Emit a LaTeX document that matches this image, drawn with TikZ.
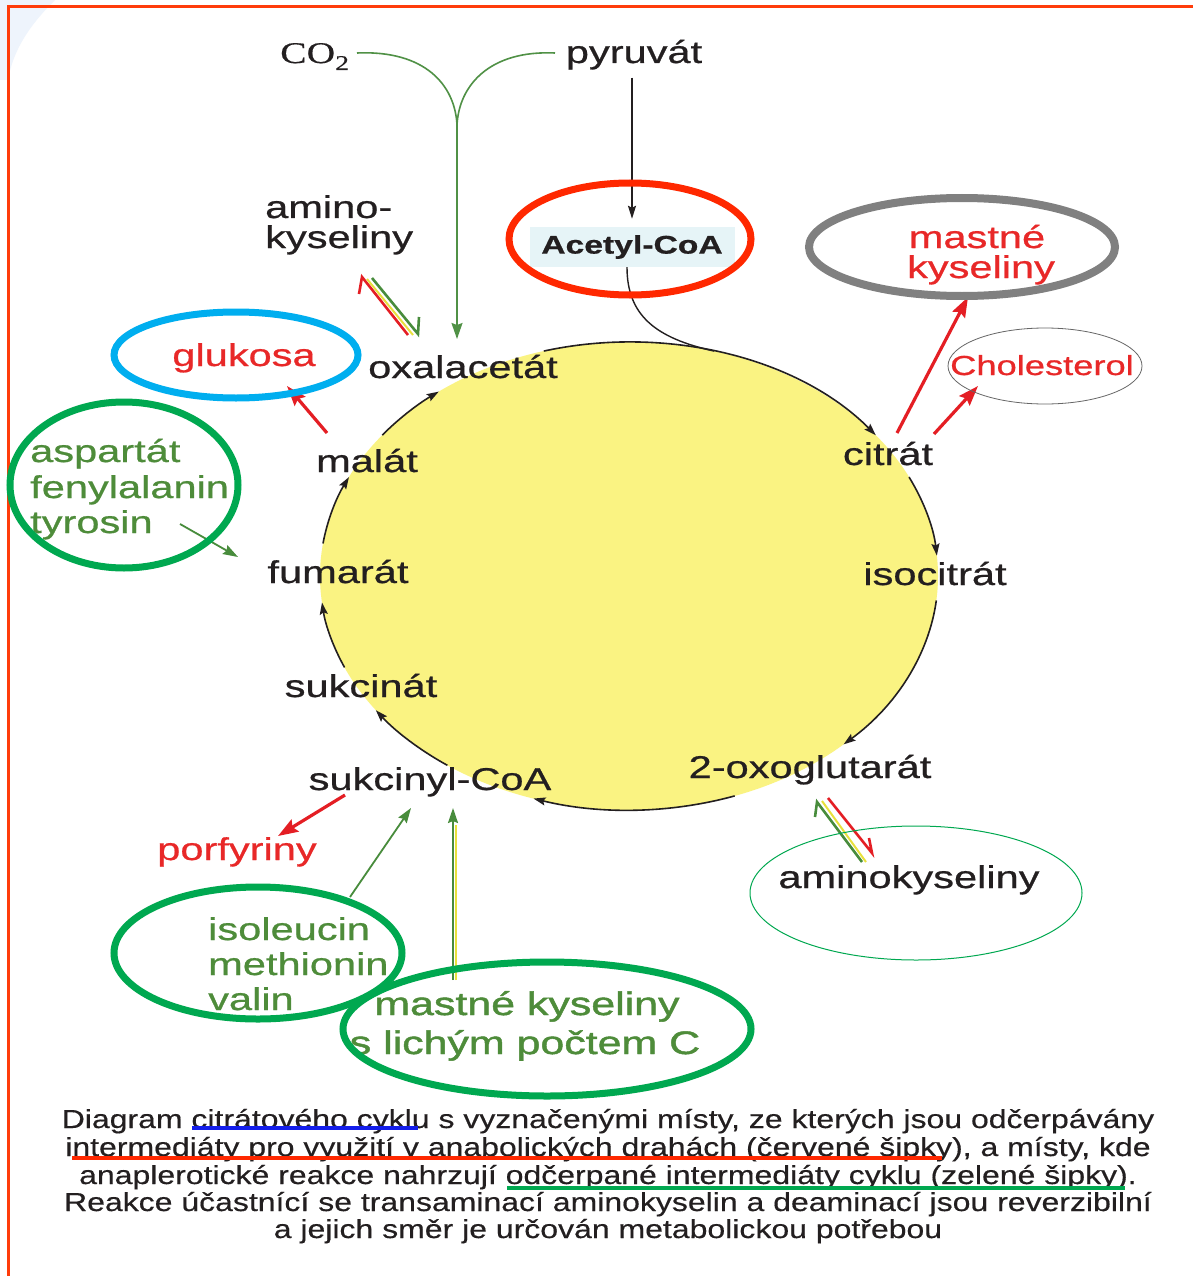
\documentclass[tikz,border=0pt]{standalone}
\usepackage{fontspec}
\setmainfont{Liberation Sans}[FakeStretch=1.32]
\newfontfamily\lblfont{Liberation Sans}[FakeStretch=1.32,FakeBold=0.7]
\newfontfamily\heavyfont{Liberation Sans}[FakeStretch=1.32,FakeBold=1.4]
\newfontfamily\capfont{Liberation Sans}[FakeStretch=1.23,FakeBold=0.4]
\newfontfamily\serifwide{Liberation Serif}[FakeStretch=1.32,FakeBold=0.4]
\usetikzlibrary{arrows.meta}

\definecolor{ink}{RGB}{35,31,32}
\definecolor{redtxt}{RGB}{232,40,40}
\definecolor{grntxt}{RGB}{78,140,58}
\definecolor{redarr}{RGB}{228,30,36}
\definecolor{grnarr}{RGB}{72,140,60}
\definecolor{grnline}{RGB}{80,145,70}
\definecolor{cycfill}{RGB}{250,243,130}
\definecolor{frame}{RGB}{255,60,10}
\definecolor{markred}{RGB}{255,40,0}
\definecolor{markgrey}{RGB}{128,128,128}
\definecolor{markblue}{RGB}{0,174,239}
\definecolor{markgreen}{RGB}{0,168,80}
\definecolor{ulblue}{RGB}{20,30,235}
\definecolor{acbg}{RGB}{230,244,247}
\definecolor{slide}{RGB}{238,244,252}
\definecolor{hiyel}{RGB}{232,225,60}

% one arc of the cycle, between two parametric angles of the ring
\newcommand\cycarc[2]{\draw[cyc] ([shift={(#1:309 and 234)}]O)
  arc[start angle=#1, end angle=#2, x radius=309, y radius=234];}

\begin{document}
\begin{tikzpicture}[x=1pt,y=1pt,
  lbl/.style={inner sep=0pt, font=\lblfont\fontsize{31.5}{30}\selectfont, text=ink},
  redlbl/.style={lbl, text=redtxt},
  grnlbl/.style={lbl, text=grntxt},
  caption/.style={inner sep=0pt, font=\capfont\fontsize{26}{27}\selectfont, text=ink, anchor=base},
  cyc/.style={line width=1.6pt, draw=ink, -{Stealth[length=12pt,width=8pt,inset=2pt]}},
  outarrow/.style={line width=3.2pt, draw=redarr, -{Stealth[length=20pt,width=14pt,inset=3pt]}},
  inarrow/.style={line width=1.8pt, draw=grnarr, -{Stealth[length=15pt,width=10pt,inset=2pt]}},
  ring/.style={line width=7pt},
  harpoon/.style={line width=2.6pt, line join=miter},
]
\useasboundingbox (0,0) rectangle (1193,-1276);
\fill[white] (0,0) rectangle (1193,-1276);
\fill[slide] (0,0) -- (55,0) .. controls (35,-20) and (14,-45) .. (8,-80) -- (0,-80) -- cycle;
\draw[frame, line width=3pt] (8,-1276) -- (8,-7) -- (1193,-7);

% the cycle disc
\coordinate (O) at (629,-576);
\fill[cycfill] (O) ellipse [x radius=309, y radius=234];

% inputs at the top
\node[lbl, anchor=base] (pyr) at (634,-63) {pyruvát};
\node[inner sep=0pt, anchor=base west, font=\serifwide\fontsize{30}{30}\selectfont, text=ink] (co2) at (280,-63)
  {CO\raisebox{-7pt}{\fontsize{21}{21}\selectfont 2}};
\node[lbl, anchor=base west] (am1) at (265,-218) {amino-};
\node[lbl, anchor=base west] (am2) at (265,-248) {kyseliny};
\node[inner sep=0pt, fill=acbg, minimum width=205pt, minimum height=40pt,
      font=\lblfont\bfseries\fontsize{25.5}{25}\selectfont, text=ink] (acoa) at (632,-247) {Acetyl-CoA};

% products leaving the cycle
\node[redlbl, anchor=base] (fa1) at (977,-248) {mastné};
\node[redlbl, anchor=base] (fa2) at (981,-278) {kyseliny};
\node[redlbl, anchor=base, font=\lblfont\fontsize{27.5}{27}\selectfont] (chol) at (1042,-375) {Cholesterol};
\node[redlbl, anchor=base] (glu) at (244,-366) {glukosa};
\node[redlbl, anchor=base] (por) at (237,-860) {porfyriny};

% intermediates
\node[lbl, anchor=base] (oxa) at (463,-378) {oxalacetát};
\node[lbl, anchor=base] (mal) at (367,-472) {malát};
\node[lbl, anchor=base] (cit) at (888,-465) {citrát};
\node[lbl, anchor=base] (iso) at (935,-585) {isocitrát};
\node[lbl, anchor=base] (fum) at (338,-583) {fumarát};
\node[lbl, anchor=base] (suc) at (361,-697) {sukcinát};
\node[lbl, anchor=base] (sca) at (430,-790) {sukcinyl-CoA};
\node[lbl, anchor=base] (oxg) at (810,-778) {2-oxoglutarát};
\node[lbl, anchor=base] (aak) at (909,-888) {aminokyseliny};

% anaplerotic sources
\node[grnlbl, anchor=base west] (asp) at (30,-462) {aspartát};
\node[grnlbl, anchor=base west] (phe) at (30,-498) {fenylalanin};
\node[grnlbl, anchor=base west] (tyr) at (30,-533) {tyrosin};
\node[grnlbl, anchor=base west] (ile) at (208,-940) {isoleucin};
\node[grnlbl, anchor=base west] (met) at (208,-975) {methionin};
\node[grnlbl, anchor=base west] (val) at (208,-1010) {valin};
\node[grnlbl, anchor=base, font=\heavyfont\fontsize{32.5}{30}\selectfont] (odd1) at (527,-1015) {mastné kyseliny};
\node[grnlbl, anchor=base, font=\heavyfont\fontsize{32.5}{30}\selectfont] (odd2) at (525,-1054) {s lichým počtem C};

% cycle arcs, clockwise
\cycarc{106}{37}
\cycarc{25}{5}
\cycarc{-6}{-46}
\cycarc{-70}{-108}
\cycarc{-126}{-145}
\cycarc{-157}{-173.5}
\cycarc{172}{155}
\cycarc{143}{128}

% acetyl-CoA entry
\draw[ink, line width=1.5pt, -{Stealth[length=13pt,width=8pt,inset=2pt]}, shorten <=8pt, shorten >=8pt]
  (pyr.south -| acoa.north) -- (acoa.north);
\coordinate (join) at (714.2,-351.1);
\draw[ink, line width=1.4pt] ([xshift=-5pt]acoa.south) .. controls (627,-315) and (655,-338) .. (join);

% CO2 + pyruvate carboxylation to oxalacetate
\coordinate (co2r) at (357,-53);
\coordinate (pyrl) at (555,-53);
\coordinate (J) at (457,-125);
\coordinate (oxatop) at (457,-339);
\draw[grnline, line width=1.6pt] (co2r) .. controls (425,-50) and (455,-85) .. (J);
\draw[grnline, line width=1.6pt] (pyrl) .. controls (490,-50) and (459,-85) .. (J);
\draw[grnline, line width=1.6pt, -{Stealth[length=16pt,width=11pt,inset=2pt]}] (J) -- (oxatop);

% reversible transaminations
\draw[redarr, harpoon] (408,-335) -- (362,-277) -- (359,-294);
\draw[hiyel, line width=2pt] (367,-279) -- (413,-335);
\draw[grnarr, harpoon] (372,-278) -- (418,-334) -- (419,-317);

\draw[grnarr, harpoon] (862,-862) -- (817,-802) -- (815,-817);
\draw[hiyel, line width=2pt] (866,-862) -- (822,-801);
\draw[redarr, harpoon] (828,-798) -- (872,-853) -- (869,-838);

% withdrawals (red)
\coordinate (citA) at (897,-433);  \coordinate (faB) at (968,-297);
\coordinate (citC) at (934,-434);  \coordinate (cholB) at (978,-386);
\coordinate (malA) at (327,-433);  \coordinate (gluB) at (287,-386);
\coordinate (scaA) at (345,-795);  \coordinate (porB) at (278,-836);
\draw[outarrow] (citA) -- (faB);
\draw[outarrow] (citC) -- (cholB);
\draw[outarrow] (malA) -- (gluB);
\draw[outarrow] (scaA) -- (porB);

% refilling (green)
\coordinate (tyrA) at (180,-524);  \coordinate (fumB) at (238,-557);
\coordinate (ileA) at (350,-897);  \coordinate (scaB) at (411,-808);
\coordinate (oddA) at (453,-980);  \coordinate (scaC) at (453,-808);
\draw[inarrow] (tyrA) -- (fumB);
\draw[inarrow] (ileA) -- (scaB);
\draw[hiyel, line width=1.5pt] (456,-980) -- (456,-825);
\draw[inarrow] (oddA) -- (scaC);

% highlight rings
\draw[markred, ring] (630,-239) ellipse [x radius=121, y radius=56];
\draw[markgrey, line width=8pt] (962,-247) ellipse [x radius=153, y radius=49];
\draw[black!60, line width=0.8pt] (1045,-366) ellipse [x radius=97, y radius=38];
\draw[markblue, ring] (236,-355) ellipse [x radius=122, y radius=43];
\draw[markgreen, ring] (124,-485) ellipse [x radius=114, y radius=83];
\draw[markgreen, ring] (258,-953) ellipse [x radius=144, y radius=66];
\draw[markgreen, ring] (547,-1029) ellipse [x radius=204, y radius=67];
\draw[markgreen, line width=1pt] (916,-893) ellipse [x radius=166, y radius=67];

% caption
\node[caption] (cap1) at (608,-1128) {Diagram citrátového cyklu s vyznačenými místy, ze kterých jsou odčerpávány};
\node[caption] (cap2) at (608,-1156) {intermediáty pro využití v anabolických drahách (červené šipky), a místy, kde};
\node[caption] (cap3) at (608,-1184) {anaplerotické reakce nahrzují odčerpané intermediáty cyklu (zelené šipky).};
\node[caption] (cap4) at (608,-1211) {Reakce účastnící se transaminací aminokyselin a deaminací jsou reverzibilní};
\node[caption] (cap5) at (608,-1238) {a jejich směr je určován metabolickou potřebou};

\draw[ulblue, line width=3.5pt] (192,-1128) -- (418,-1128);
\draw[markred, line width=4pt] (72,-1158) -- (942,-1158);
\draw[markgreen, line width=4.5pt] (507,-1188) -- (1125,-1188);
\end{tikzpicture}
\end{document}
